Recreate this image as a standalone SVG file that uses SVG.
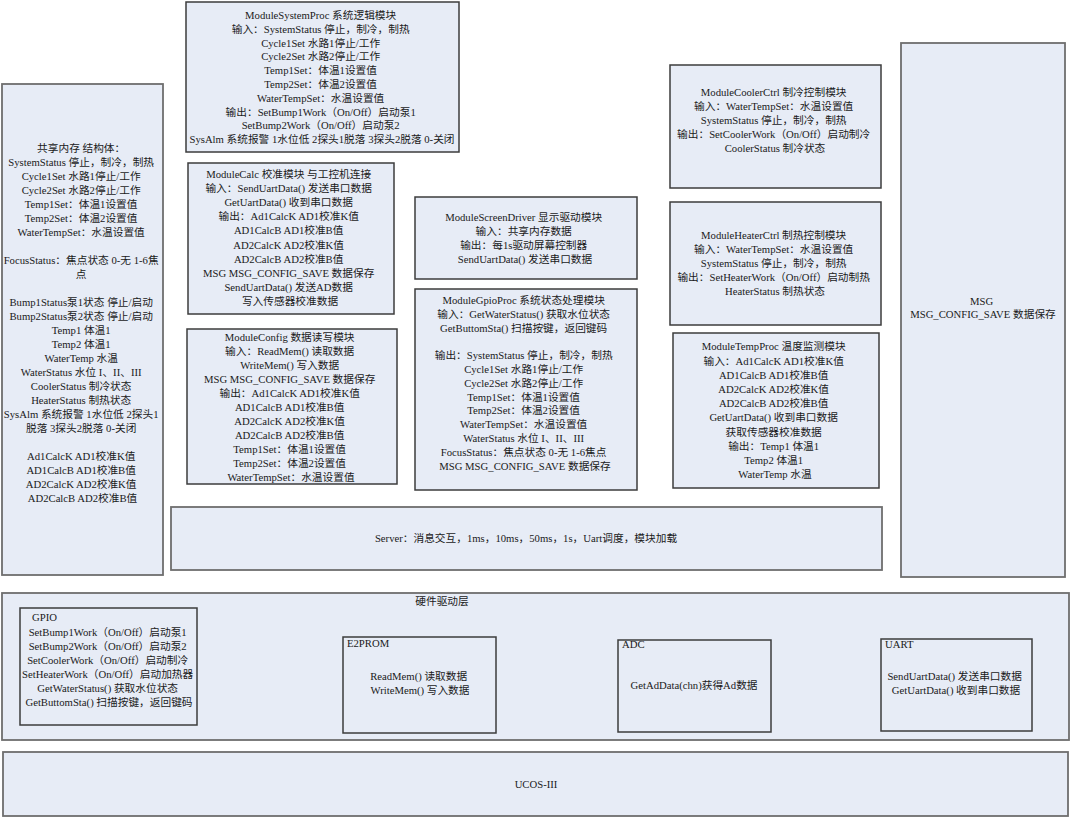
<svg xmlns="http://www.w3.org/2000/svg" width="1071" height="818" viewBox="0 0 1071 818">
  <style>
    .frame { fill: #e7ecf6; stroke: #6e6e6e; stroke-width: 1.8; }
    .mod { fill: #e7ecf6; stroke: #3c3c3c; stroke-width: 1.5; }
    .t { font-family: "Liberation Serif", "Noto Sans CJK SC", serif; font-size: 10.7px; fill: #1a1a1a; }
    .c { text-anchor: middle; }
  </style>
  <rect width="1071" height="818" fill="#ffffff"/>

  <!-- shared memory structure -->
  <g id="shared-memory">
    <rect class="frame" x="2" y="84" width="161" height="491"/>
    <text class="t c">
      <tspan x="82.5" y="152">共享内存 结构体：</tspan>
      <tspan x="82.5" y="166">SystemStatus 停止，制冷，制热</tspan>
      <tspan x="82.5" y="180">Cycle1Set 水路1停止/工作</tspan>
      <tspan x="82.5" y="194">Cycle2Set 水路2停止/工作</tspan>
      <tspan x="82.5" y="208">Temp1Set：体温1设置值</tspan>
      <tspan x="82.5" y="222">Temp2Set：体温2设置值</tspan>
      <tspan x="82.5" y="236">WaterTempSet：水温设置值</tspan>
      <tspan x="82.5" y="264">FocusStatus：焦点状态 0-无 1-6焦</tspan>
      <tspan x="82.5" y="278">点</tspan>
      <tspan x="82.5" y="306">Bump1Status泵1状态 停止/启动</tspan>
      <tspan x="82.5" y="320">Bump2Status泵2状态 停止/启动</tspan>
      <tspan x="82.5" y="334">Temp1 体温1</tspan>
      <tspan x="82.5" y="348">Temp2 体温1</tspan>
      <tspan x="82.5" y="362">WaterTemp 水温</tspan>
      <tspan x="82.5" y="376">WaterStatus 水位 I、II、III</tspan>
      <tspan x="82.5" y="390">CoolerStatus 制冷状态</tspan>
      <tspan x="82.5" y="404">HeaterStatus 制热状态</tspan>
      <tspan x="82.5" y="418">SysAlm 系统报警 1水位低 2探头1</tspan>
      <tspan x="82.5" y="432">脱落 3探头2脱落 0-关闭</tspan>
      <tspan x="82.5" y="460">Ad1CalcK AD1校准K值</tspan>
      <tspan x="82.5" y="474">AD1CalcB AD1校准B值</tspan>
      <tspan x="82.5" y="488">AD2CalcK AD2校准K值</tspan>
      <tspan x="82.5" y="502">AD2CalcB AD2校准B值</tspan>
    </text>
  </g>

  <g id="module-system-proc">
    <rect class="mod" x="186" y="2" width="273" height="150"/>
    <text class="t c">
      <tspan x="322" y="19">ModuleSystemProc 系统逻辑模块</tspan>
      <tspan x="322" y="32.8">输入：SystemStatus 停止，制冷，制热</tspan>
      <tspan x="322" y="46.6">Cycle1Set 水路1停止/工作</tspan>
      <tspan x="322" y="60.4">Cycle2Set 水路2停止/工作</tspan>
      <tspan x="322" y="74.2">Temp1Set：体温1设置值</tspan>
      <tspan x="322" y="88">Temp2Set：体温2设置值</tspan>
      <tspan x="322" y="101.8">WaterTempSet：水温设置值</tspan>
      <tspan x="322" y="115.6">输出：SetBump1Work（On/Off）启动泵1</tspan>
      <tspan x="322" y="129.4">SetBump2Work（On/Off）启动泵2</tspan>
      <tspan x="322" y="143.2">SysAlm 系统报警 1水位低 2探头1脱落 3探头2脱落 0-关闭</tspan>
    </text>
  </g>

  <g id="module-calc">
    <rect class="mod" x="188" y="163" width="206" height="151"/>
    <text class="t c">
      <tspan x="290" y="178">ModuleCalc 校准模块 与工控机连接</tspan>
      <tspan x="290" y="192.1">输入：SendUartData() 发送串口数据</tspan>
      <tspan x="290" y="206.2">GetUartData() 收到串口数据</tspan>
      <tspan x="290" y="220.3">输出：Ad1CalcK AD1校准K值</tspan>
      <tspan x="290" y="234.4">AD1CalcB AD1校准B值</tspan>
      <tspan x="290" y="248.5">AD2CalcK AD2校准K值</tspan>
      <tspan x="290" y="262.6">AD2CalcB AD2校准B值</tspan>
      <tspan x="290" y="276.7">MSG MSG_CONFIG_SAVE 数据保存</tspan>
      <tspan x="290" y="290.8">SendUartData() 发送AD数据</tspan>
      <tspan x="290" y="304.9">写入传感器校准数据</tspan>
    </text>
  </g>

  <g id="module-config">
    <rect class="mod" x="187" y="329" width="210" height="155"/>
    <text class="t c">
      <tspan x="291" y="341">ModuleConfig 数据读写模块</tspan>
      <tspan x="291" y="355">输入：ReadMem() 读取数据</tspan>
      <tspan x="291" y="369">WriteMem() 写入数据</tspan>
      <tspan x="291" y="383">MSG MSG_CONFIG_SAVE 数据保存</tspan>
      <tspan x="291" y="397">输出：Ad1CalcK AD1校准K值</tspan>
      <tspan x="291" y="411">AD1CalcB AD1校准B值</tspan>
      <tspan x="291" y="425">AD2CalcK AD2校准K值</tspan>
      <tspan x="291" y="439">AD2CalcB AD2校准B值</tspan>
      <tspan x="291" y="453">Temp1Set：体温1设置值</tspan>
      <tspan x="291" y="467">Temp2Set：体温2设置值</tspan>
      <tspan x="291" y="481">WaterTempSet：水温设置值</tspan>
    </text>
  </g>

  <g id="module-screen-driver">
    <rect class="mod" x="415" y="197" width="222" height="82"/>
    <text class="t c">
      <tspan x="525" y="221">ModuleScreenDriver 显示驱动模块</tspan>
      <tspan x="525" y="235">输入：共享内存数据</tspan>
      <tspan x="525" y="249">输出：每1s驱动屏幕控制器</tspan>
      <tspan x="525" y="263">SendUartData() 发送串口数据</tspan>
    </text>
  </g>

  <g id="module-gpio-proc">
    <rect class="mod" x="415" y="289" width="222" height="201"/>
    <text class="t c">
      <tspan x="525" y="304">ModuleGpioProc 系统状态处理模块</tspan>
      <tspan x="525" y="317.8">输入：GetWaterStatus() 获取水位状态</tspan>
      <tspan x="525" y="331.6">GetButtomSta() 扫描按键，返回键码</tspan>
      <tspan x="525" y="359.2">输出：SystemStatus 停止，制冷，制热</tspan>
      <tspan x="525" y="373">Cycle1Set 水路1停止/工作</tspan>
      <tspan x="525" y="386.8">Cycle2Set 水路2停止/工作</tspan>
      <tspan x="525" y="400.6">Temp1Set：体温1设置值</tspan>
      <tspan x="525" y="414.4">Temp2Set：体温2设置值</tspan>
      <tspan x="525" y="428.2">WaterTempSet：水温设置值</tspan>
      <tspan x="525" y="442">WaterStatus 水位 I、II、III</tspan>
      <tspan x="525" y="455.8">FocusStatus：焦点状态 0-无 1-6焦点</tspan>
      <tspan x="525" y="469.6">MSG MSG_CONFIG_SAVE 数据保存</tspan>
    </text>
  </g>

  <g id="module-cooler-ctrl">
    <rect class="mod" x="670" y="65" width="211" height="123"/>
    <text class="t c">
      <tspan x="775" y="96.3">ModuleCoolerCtrl 制冷控制模块</tspan>
      <tspan x="775" y="110.3">输入：WaterTempSet：水温设置值</tspan>
      <tspan x="775" y="124.3">SystemStatus 停止，制冷，制热</tspan>
      <tspan x="775" y="138.3">输出：SetCoolerWork（On/Off）启动制冷</tspan>
      <tspan x="775" y="152.3">CoolerStatus 制冷状态</tspan>
    </text>
  </g>

  <g id="module-heater-ctrl">
    <rect class="mod" x="670" y="202" width="211" height="123"/>
    <text class="t c">
      <tspan x="775" y="239.3">ModuleHeaterCtrl 制热控制模块</tspan>
      <tspan x="775" y="253.3">输入：WaterTempSet：水温设置值</tspan>
      <tspan x="775" y="267.3">SystemStatus 停止，制冷，制热</tspan>
      <tspan x="775" y="281.3">输出：SetHeaterWork（On/Off）启动制热</tspan>
      <tspan x="775" y="295.3">HeaterStatus 制热状态</tspan>
    </text>
  </g>

  <g id="module-temp-proc">
    <rect class="mod" x="673" y="333" width="206" height="155"/>
    <text class="t c">
      <tspan x="775" y="350.3">ModuleTempProc 温度监测模块</tspan>
      <tspan x="775" y="364.5">输入：Ad1CalcK AD1校准K值</tspan>
      <tspan x="775" y="378.7">AD1CalcB AD1校准B值</tspan>
      <tspan x="775" y="392.9">AD2CalcK AD2校准K值</tspan>
      <tspan x="775" y="407.1">AD2CalcB AD2校准B值</tspan>
      <tspan x="775" y="421.3">GetUartData() 收到串口数据</tspan>
      <tspan x="775" y="435.5">获取传感器校准数据</tspan>
      <tspan x="775" y="449.7">输出：Temp1 体温1</tspan>
      <tspan x="775" y="463.9">Temp2 体温1</tspan>
      <tspan x="775" y="478.1">WaterTemp 水温</tspan>
    </text>
  </g>

  <g id="msg">
    <rect class="frame" x="901" y="43" width="164" height="534"/>
    <text class="t c">
      <tspan x="983" y="305">MSG</tspan>
      <tspan x="983" y="318">MSG_CONFIG_SAVE 数据保存</tspan>
    </text>
  </g>

  <g id="server">
    <rect class="frame" x="171" y="507" width="711" height="63"/>
    <text class="t c" x="526" y="542">Server：消息交互，1ms，10ms，50ms，1s，Uart调度，模块加载</text>
  </g>

  <!-- hardware driver layer -->
  <g id="hardware-layer">
    <rect class="frame" x="2" y="593" width="1067" height="147"/>
    <text class="t c" x="442" y="605">硬件驱动层</text>
  </g>

  <g id="gpio">
    <rect class="mod" x="20" y="608" width="177" height="117"/>
    <text class="t" x="32" y="621">GPIO</text>
    <text class="t c">
      <tspan x="109" y="636">SetBump1Work（On/Off）启动泵1</tspan>
      <tspan x="109" y="650">SetBump2Work（On/Off）启动泵2</tspan>
      <tspan x="109" y="664">SetCoolerWork（On/Off）启动制冷</tspan>
      <tspan x="109" y="678">SetHeaterWork（On/Off）启动加热器</tspan>
      <tspan x="109" y="692">GetWaterStatus() 获取水位状态</tspan>
      <tspan x="109" y="706">GetButtomSta() 扫描按键，返回键码</tspan>
    </text>
  </g>

  <g id="e2prom">
    <rect class="mod" x="343" y="637" width="153" height="96"/>
    <text class="t" x="347" y="647">E2PROM</text>
    <text class="t c">
      <tspan x="420" y="680">ReadMem() 读取数据</tspan>
      <tspan x="420" y="694">WriteMem() 写入数据</tspan>
    </text>
  </g>

  <g id="adc">
    <rect class="mod" x="618" y="640" width="153" height="92"/>
    <text class="t" x="622" y="648">ADC</text>
    <text class="t c" x="694" y="689">GetAdData(chn)获得Ad数据</text>
  </g>

  <g id="uart">
    <rect class="mod" x="881" y="639" width="151" height="92"/>
    <text class="t" x="885" y="648">UART</text>
    <text class="t c">
      <tspan x="956" y="680">SendUartData() 发送串口数据</tspan>
      <tspan x="956" y="694">GetUartData() 收到串口数据</tspan>
    </text>
  </g>

  <g id="ucos">
    <rect class="frame" x="3" y="752" width="1065" height="64"/>
    <text class="t c" x="536" y="788">UCOS-III</text>
  </g>

  <g id="connectors"></g>
</svg>
